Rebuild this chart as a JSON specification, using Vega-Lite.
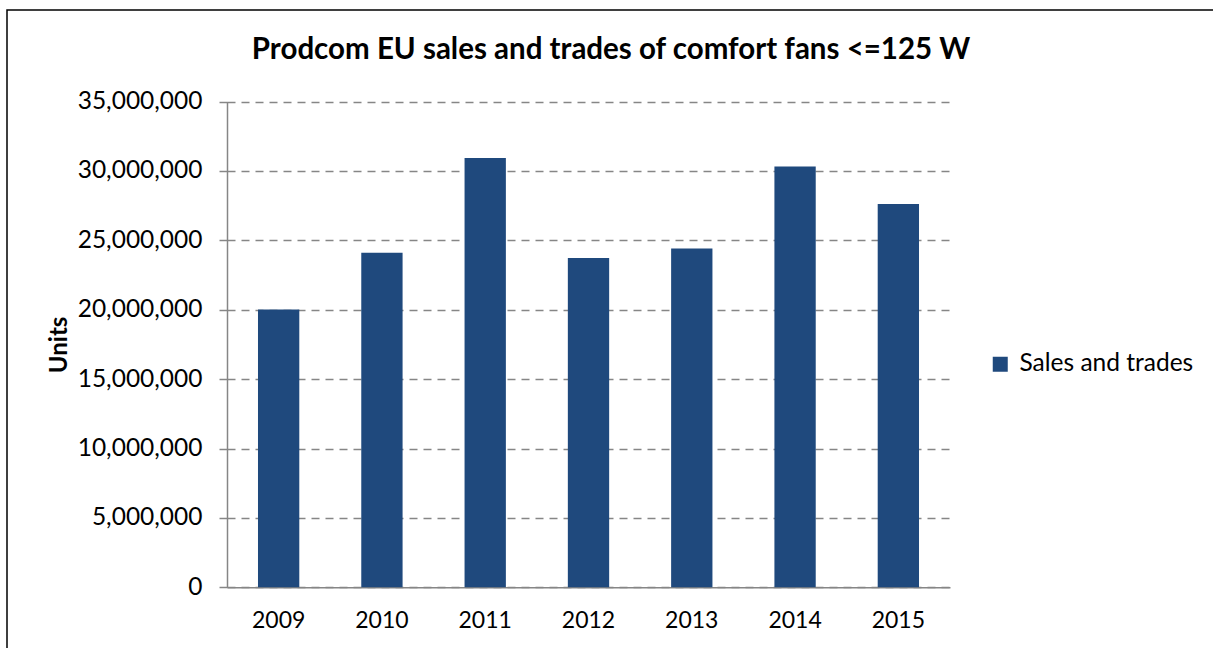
{
  "$schema": "https://vega.github.io/schema/vega-lite/v6.json",
  "autosize": "none",
  "padding": {"left": 7, "top": 10, "right": -4, "bottom": -4},
  "width": 1210,
  "height": 642,
  "background": "white",
  "title": {
    "text": "Prodcom EU sales and trades of comfort fans <=125 W",
    "font": "Lato",
    "fontSize": 29.5,
    "fontWeight": "bold",
    "color": "#000000",
    "anchor": "middle",
    "baseline": "alphabetic",
    "offset": 0,
    "dy": 78,
    "dx": -1
  },
  "data": {
    "values": [
      {"year": "2009", "units": 20010000, "series": "Sales and trades"},
      {"year": "2010", "units": 24100000, "series": "Sales and trades"},
      {"year": "2011", "units": 30930000, "series": "Sales and trades"},
      {"year": "2012", "units": 23720000, "series": "Sales and trades"},
      {"year": "2013", "units": 24410000, "series": "Sales and trades"},
      {"year": "2014", "units": 30320000, "series": "Sales and trades"},
      {"year": "2015", "units": 27610000, "series": "Sales and trades"}
    ]
  },
  "mark": {"type": "bar"},
  "encoding": {
    "x": {
      "field": "year",
      "type": "nominal",
      "sort": null,
      "scale": {"range": [220, 943], "paddingInner": 0.6, "paddingOuter": 0.3},
      "axis": {
        "title": null,
        "orient": "bottom",
        "offset": -64.7,
        "ticks": false,
        "grid": false,
        "labelAngle": 0,
        "labelFont": "Lato",
        "labelFontSize": 23,
        "labelColor": "#000000",
        "labelPadding": 22,
        "domainColor": "#868686",
        "domainWidth": 1.5
      }
    },
    "y": {
      "field": "units",
      "type": "quantitative",
      "scale": {"domain": [0, 35000000], "nice": false, "range": [577.3, 91.5]},
      "axis": {
        "title": "Units",
        "titleFont": "Lato",
        "titleFontSize": 24,
        "titleFontWeight": "bold",
        "titleColor": "#000000",
        "titlePadding": 6,
        "offset": -220,
        "values": [0, 5000000, 10000000, 15000000, 20000000, 25000000, 30000000, 35000000],
        "format": ",d",
        "labelFont": "Lato",
        "labelFontSize": 24.5,
        "labelColor": "#000000",
        "labelPadding": 17,
        "tickSize": 8,
        "tickColor": "#868686",
        "tickWidth": 1.5,
        "tickDash": [8, 6],
        "grid": true,
        "gridColor": "#868686",
        "gridWidth": 1.5,
        "gridDash": [8, 6],
        "domainColor": "#868686",
        "domainWidth": 1.5
      }
    },
    "color": {
      "field": "series",
      "type": "nominal",
      "scale": {"range": ["#1F497D"]},
      "legend": {
        "title": null,
        "orient": "none",
        "legendX": 981,
        "legendY": 342,
        "padding": 0,
        "symbolType": "square",
        "symbolSize": 225,
        "symbolStrokeWidth": 0,
        "symbolOpacity": 1,
        "labelFont": "Lato",
        "labelFontSize": 24.5,
        "labelLimit": 400,
        "labelColor": "#000000",
        "labelOffset": 7
      }
    }
  },
  "config": {
    "view": {"stroke": "#000000", "strokeWidth": 1.5, "fill": "white"}
  }
}
